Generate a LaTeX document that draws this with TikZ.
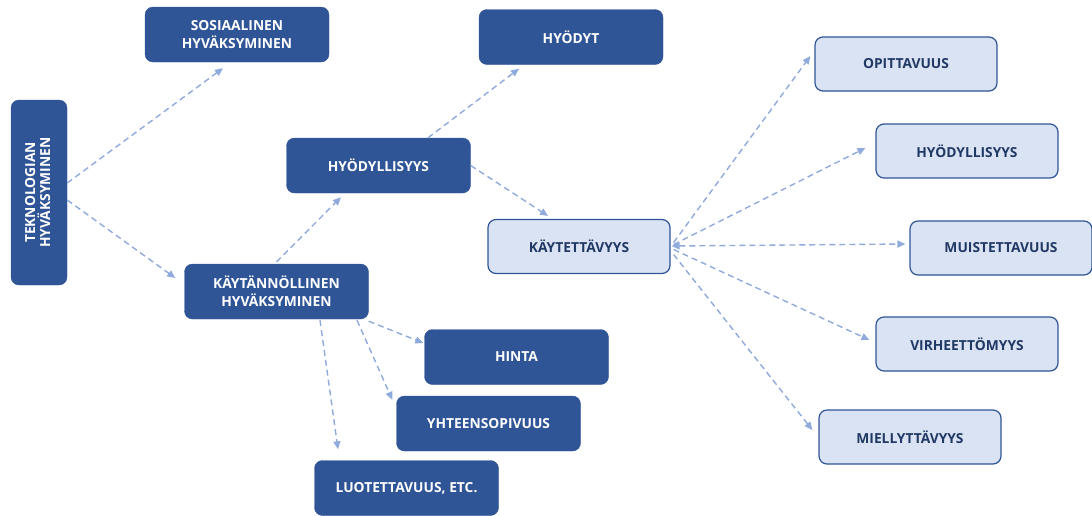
\documentclass[tikz,border=0pt]{standalone}
\usepackage{fontspec}
\setmainfont{Open Sans}
\usetikzlibrary{arrows.meta}
\definecolor{darkbox}{HTML}{2F5597}
\definecolor{lightbox}{HTML}{DAE3F3}
\definecolor{lighttext}{HTML}{203864}
\definecolor{linkcol}{HTML}{8FAADC}
\begin{document}
\begin{tikzpicture}[x=1pt,y=-1pt,
  box/.style={rounded corners=8pt, minimum height=55pt, minimum width=184pt,
    align=center, font=\fontsize{13.8}{18}\selectfont\bfseries, inner sep=0pt},
  darknode/.style={box, fill=darkbox, draw=darkbox, text=white},
  lightnode/.style={box, fill=lightbox, draw=darkbox, line width=1.2pt, text=lighttext,
    minimum width=182pt, minimum height=54pt},
  link/.style={draw=linkcol, line width=1.4pt, dash pattern=on 6pt off 4pt,
    -{Triangle[length=8pt,width=7pt]}},
  link2/.style={link, {Triangle[length=8pt,width=7pt]}-{Triangle[length=8pt,width=7pt]}}
]
\useasboundingbox (0,0) rectangle (1092,515);

% left column
\node[darknode, minimum width=56pt, minimum height=185pt] (tek) at (39,192.5)
  {\rotatebox[origin=c]{90}{\begin{tabular}{@{}c@{}}TEKNOLOGIAN\\[-3pt]HYVÄKSYMINEN\end{tabular}}};
\node[darknode] (sos) at (237,34.5) {SOSIAALINEN\\HYVÄKSYMINEN};
\node[darknode] (kayt) at (276.5,291.5) {KÄYTÄNNÖLLINEN\\HYVÄKSYMINEN};

% middle column
\node[darknode] (hyod) at (378.5,165.5) {HYÖDYLLISYYS};
\node[darknode] (hyodyt) at (571,37) {HYÖDYT};
\node[darknode] (hinta) at (516.5,357) {HINTA};
\node[darknode] (yht) at (488.5,423.5) {YHTEENSOPIVUUS};
\node[darknode] (luot) at (406.5,488) {LUOTETTAVUUS, ETC.};

% usability and its attributes
\node[lightnode] (kaytet) at (579,246.5) {KÄYTETTÄVYYS};
\node[lightnode] (opit) at (906,64) {OPITTAVUUS};
\node[lightnode] (hyod2) at (967,151) {HYÖDYLLISYYS};
\node[lightnode] (muist) at (1001,248) {MUISTETTAVUUS};
\node[lightnode] (virhe) at (967,344) {VIRHEETTÖMYYS};
\node[lightnode] (miell) at (910,437) {MIELLYTTÄVYYS};

% connectors
\draw[link] ([yshift=9.5pt]tek.east) -- ([xshift=-14pt,yshift=-6pt]sos.south);
\draw[link] ([yshift=-7.5pt]tek.east) -- ([xshift=-9pt,yshift=13.5pt]kayt.west);
\draw[link] ([yshift=2pt]kayt.north) -- ([xshift=-37.5pt,yshift=-4pt]hyod.south);
\draw[link] ([xshift=49.5pt]hyod.north) -- ([xshift=-52pt,yshift=-4pt]hyodyt.south);
\draw[link] (hyod.east) -- ([xshift=-31pt,yshift=3pt]kaytet.north);
\draw[link] ([yshift=-2pt]kayt.south east) -- ([xshift=-1pt,yshift=14pt]hinta.west);
\draw[link] ([xshift=80.5pt,yshift=-1pt]kayt.south) -- ([xshift=-4pt,yshift=-4pt]yht.north west);
\draw[link] ([xshift=43.5pt,yshift=-1pt]kayt.south) -- ([xshift=-68.5pt,yshift=11pt]luot.north);

\draw[link] ([xshift=3pt,yshift=4pt]kaytet.east) -- ([xshift=-4pt,yshift=8pt]opit.west);
\draw[link] ([xshift=3pt,yshift=2pt]kaytet.east) -- ([xshift=-10pt,yshift=3pt]hyod2.west);
\draw[link2] ([xshift=1pt,yshift=0.5pt]kaytet.east) -- ([xshift=-4pt,yshift=4pt]muist.west);
\draw[link] ([xshift=3pt,yshift=-3pt]kaytet.east) -- ([xshift=-6pt,yshift=4pt]virhe.west);
\draw[link] ([xshift=3pt,yshift=-8pt]kaytet.east) -- ([xshift=-6pt,yshift=7pt]miell.west);
\end{tikzpicture}
\end{document}
